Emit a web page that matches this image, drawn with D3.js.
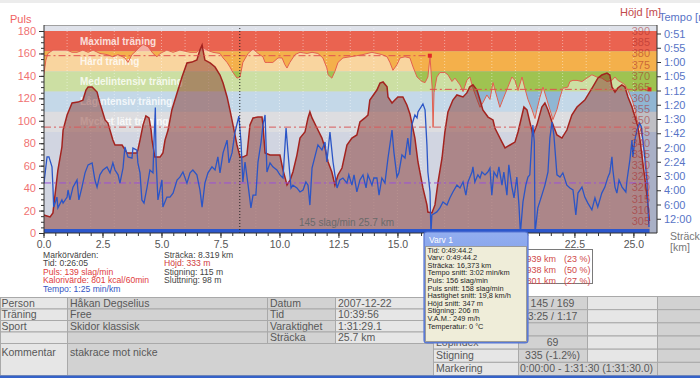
<!DOCTYPE html>
<html>
<head>
<meta charset="utf-8">
<script src="https://cdn.jsdelivr.net/npm/d3@7"></script>
<style>
  body { margin: 0; background: #fff; }
  svg { display: block; font-family: "Liberation Sans", Arial, sans-serif; }
</style>
</head>
<body>
<svg id="chart" width="700" height="378"></svg>
<script>
// --- data: [km, value]
const puls = [[0,139],[0.1,154],[0.19,160],[0.4,163],[0.7,163],[1.0,163],[1.21,161],[1.42,161],[1.67,163],[1.89,161],[2.1,163],[2.39,160],[2.69,159],[2.94,157],[3.16,159],[3.45,156],[3.58,152],[3.75,159],[3.96,163],[4.09,166],[4.22,168],[4.43,166],[4.64,160],[4.81,157],[4.94,160],[5.23,163],[5.49,161],[5.78,163],[6.21,161],[6.5,161],[6.72,166],[6.93,163],[7.18,161],[7.48,160],[7.61,156],[7.78,152],[7.9,148],[8.03,143],[8.2,138],[8.33,139],[8.45,152],[8.67,160],[8.88,164],[9.09,160],[9.3,157],[9.39,152],[9.51,152],[9.72,152],[9.94,156],[10.11,156],[10.23,150],[10.32,147],[10.44,152],[10.66,159],[10.87,161],[11.17,160],[11.38,161],[11.63,160],[11.84,156],[12.01,147],[12.06,141],[12.22,138],[12.35,144],[12.48,152],[12.69,156],[12.99,157],[13.28,158],[13.54,159],[13.92,161],[14.13,160],[14.34,159],[14.56,157],[14.68,152],[14.81,145],[14.98,150],[15.11,156],[15.32,157],[15.53,156],[15.66,148],[15.83,139],[16.04,135],[16.17,134],[16.29,139],[16.38,157],[16.47,130],[16.51,94],[16.55,125],[16.67,139],[16.8,143],[17.01,143],[17.14,141],[17.31,135],[17.44,138],[17.65,132],[17.78,126],[17.94,136],[18.07,139],[18.2,129],[18.37,119],[18.5,112],[18.62,116],[18.79,123],[18.92,119],[19.05,134],[19.22,121],[19.34,112],[19.47,119],[19.68,130],[19.85,139],[19.98,136],[20.11,127],[20.28,139],[20.4,129],[20.53,119],[20.7,110],[20.83,102],[20.91,110],[21.04,121],[21.17,130],[21.33,119],[21.46,110],[21.59,101],[21.76,110],[21.89,121],[22.01,129],[22.22,130],[22.31,135],[22.44,136],[22.61,136],[22.82,135],[23.03,138],[23.24,141],[23.45,139],[23.66,138],[23.88,135],[24.09,136],[24.22,139],[24.34,136],[24.51,134],[24.64,132],[24.77,127],[24.94,119],[25.07,110],[25.15,101],[25.28,94],[25.4,83],[25.49,71],[25.57,56],[25.61,41],[25.66,29]];

const hojd = [[0,307.7],[0.28,306.8],[0.4,308.6],[0.61,327.8],[0.78,338.1],[0.83,345.7],[1.0,352.4],[1.21,357.8],[1.46,358.2],[1.67,359.1],[1.8,363.6],[1.89,365.0],[2.06,365.0],[2.27,362.7],[2.39,357.8],[2.61,350.2],[2.73,348.8],[2.94,341.2],[3.03,339.0],[3.33,339.0],[3.54,335.4],[3.96,335.4],[4.0,336.8],[4.09,341.2],[4.22,348.0],[4.34,352.0],[4.47,351.1],[4.56,345.7],[4.6,341.2],[4.72,333.6],[4.94,333.6],[5.06,335.4],[5.15,341.2],[5.28,345.7],[5.44,354.7],[5.66,362.3],[5.87,369.4],[6.08,375.7],[6.29,376.1],[6.5,377.0],[6.63,381.5],[6.72,383.7],[6.84,377.0],[7.06,375.7],[7.27,373.9],[7.48,370.3],[7.61,366.7],[7.78,360.5],[7.9,354.7],[8.03,348.0],[8.2,339.0],[8.33,333.6],[8.45,333.6],[8.62,334.5],[8.75,348.0],[8.88,351.1],[9.09,351.5],[9.26,351.5],[9.3,348.0],[9.39,335.4],[9.6,334.5],[10.02,334.5],[10.15,327.8],[10.32,321.1],[10.45,323.3],[10.57,326.9],[10.74,334.5],[10.87,342.1],[11.08,344.8],[11.21,351.1],[11.29,353.8],[11.38,351.1],[11.59,346.6],[11.8,342.1],[11.93,337.7],[12.06,331.4],[12.22,326.9],[12.35,321.1],[12.48,325.6],[12.65,328.7],[12.86,339.0],[13.07,342.1],[13.28,343.5],[13.41,349.3],[13.62,351.1],[13.75,352.4],[13.83,359.1],[14.13,363.6],[14.26,366.7],[14.39,367.2],[14.56,365.0],[14.6,360.5],[14.77,357.8],[14.89,359.1],[15.02,360.5],[15.23,360.5],[15.4,356.9],[15.53,352.9],[15.74,342.1],[15.87,331.4],[16.08,319.8],[16.25,312.2],[16.29,309.0],[16.46,308.6],[16.59,312.2],[16.72,322.4],[16.89,333.2],[17.01,344.8],[17.14,353.8],[17.35,359.1],[17.52,361.4],[17.78,360.5],[17.94,362.3],[18.07,365.0],[18.2,365.9],[18.37,363.6],[18.5,359.1],[18.62,354.7],[18.84,351.5],[19.05,350.2],[19.13,346.6],[19.43,340.3],[19.56,337.7],[19.77,339.0],[19.98,340.3],[20.11,344.8],[20.28,352.4],[20.36,356.0],[20.49,354.7],[20.61,349.3],[20.74,343.5],[20.91,348.0],[21.12,356.0],[21.25,357.8],[21.38,354.7],[21.55,349.3],[21.76,343.5],[21.97,342.1],[22.18,345.7],[22.39,352.4],[22.61,356.0],[22.94,359.1],[23.28,365.0],[23.5,369.0],[23.66,370.3],[23.88,371.2],[24.0,370.3],[24.09,365.0],[24.22,362.7],[24.34,364.5],[24.51,365.9],[24.64,365.0],[24.77,360.5],[24.94,356.0],[25.07,351.5],[25.19,347.1],[25.28,341.2],[25.4,331.0],[25.53,320.2],[25.61,313.1],[25.68,305.0]];

// speed in km/h (tempo axis is drawn as min/km)
const fart = [[0.02,17.5],[0.15,26.7],[0.23,26.7],[0.36,23.2],[0.4,16.1],[0.43,9.1],[0.49,10.5],[0.57,12.6],[0.61,8.8],[0.78,11.6],[0.83,10.5],[1.0,12.6],[1.04,15.1],[1.12,11.6],[1.25,16.1],[1.42,18.6],[1.5,11.6],[1.63,16.1],[1.76,21.1],[1.89,23.9],[2.06,24.6],[2.18,18.6],[2.27,16.1],[2.39,20.4],[2.52,22.1],[2.69,23.2],[2.82,21.1],[2.94,24.6],[3.03,22.1],[3.16,20.4],[3.24,17.5],[3.37,22.8],[3.45,30.2],[3.58,26.7],[3.75,26.3],[3.79,29.8],[3.96,29.1],[4.0,24.6],[4.09,21.1],[4.17,11.6],[4.26,10.5],[4.39,16.1],[4.51,22.1],[4.64,21.1],[4.68,31.6],[4.74,44.0],[4.77,25.6],[4.85,11.6],[5.02,18.6],[5.06,9.1],[5.23,12.6],[5.36,12.6],[5.49,14.0],[5.66,18.6],[5.78,19.6],[5.91,21.4],[6.08,17.5],[6.21,21.1],[6.33,22.1],[6.5,20.4],[6.63,15.1],[6.72,9.1],[6.84,17.5],[6.97,21.1],[7.14,23.2],[7.27,22.1],[7.39,26.7],[7.48,21.1],[7.61,28.1],[7.78,32.6],[7.86,24.6],[7.99,28.1],[8.11,35.1],[8.28,41.0],[8.37,31.9],[8.45,17.9],[8.54,24.9],[8.67,16.8],[8.79,8.8],[8.88,13.3],[9.0,13.3],[9.09,24.9],[9.22,31.9],[9.3,37.9],[9.39,41.4],[9.47,21.4],[9.6,24.6],[9.72,23.2],[9.89,22.1],[10.02,20.4],[10.15,19.3],[10.19,24.9],[10.28,36.8],[10.36,28.4],[10.49,15.8],[10.57,16.8],[10.74,15.8],[10.87,14.4],[11.0,15.1],[11.12,17.9],[11.21,16.8],[11.29,9.8],[11.38,22.8],[11.5,26.7],[11.63,30.9],[11.8,29.1],[11.93,31.9],[12.01,24.9],[12.14,35.4],[12.27,24.9],[12.35,20.4],[12.44,15.8],[12.56,18.6],[12.69,19.3],[12.86,17.5],[12.94,20.4],[13.07,16.8],[13.16,20.4],[13.28,14.4],[13.41,18.6],[13.54,20.4],[13.67,15.8],[13.75,20.4],[13.92,16.8],[14.0,19.3],[14.13,19.3],[14.22,13.3],[14.34,19.3],[14.47,17.5],[14.6,26.3],[14.77,36.1],[14.85,28.4],[14.98,19.6],[15.06,21.1],[15.19,27.4],[15.32,26.3],[15.44,33.3],[15.53,27.4],[15.61,37.9],[15.74,41.4],[15.83,40.4],[15.87,42.5],[16.08,45.3],[16.17,43.2],[16.25,30.9],[16.29,21.4],[16.38,14.4],[16.42,0],[16.46,6.3],[16.67,7.4],[16.8,8.8],[16.93,10.9],[17.1,9.8],[17.22,12.3],[17.35,14.4],[17.52,16.8],[17.65,15.8],[17.78,17.9],[17.9,13.3],[17.99,17.9],[18.16,21.4],[18.2,23.2],[18.28,17.9],[18.41,20.4],[18.5,19.3],[18.58,21.4],[18.71,20.4],[18.83,21.4],[18.92,22.8],[19.0,13.3],[19.09,21.4],[19.22,19.6],[19.3,23.2],[19.43,16.8],[19.51,21.4],[19.64,13.3],[19.72,23.9],[19.85,16.1],[19.94,12.3],[20.06,19.6],[20.15,9.8],[20.21,0],[20.32,10.9],[20.44,16.8],[20.53,19.6],[20.61,20.4],[20.7,33.3],[20.74,37.9],[20.8,31.9],[20.83,0],[20.95,8.8],[21.12,13.3],[21.25,16.8],[21.38,21.4],[21.46,33.3],[21.55,38.9],[21.63,34.4],[21.76,20.4],[21.89,19.6],[22.01,21.1],[22.18,16.8],[22.31,15.8],[22.44,15.1],[22.56,6.3],[22.65,14.0],[22.82,16.1],[22.94,12.6],[23.07,10.5],[23.24,8.1],[23.37,12.3],[23.49,9.1],[23.66,14.0],[23.79,16.1],[23.92,19.6],[24.0,21.1],[24.09,26.7],[24.13,22.1],[24.22,16.1],[24.3,14.0],[24.39,18.6],[24.52,16.1],[24.68,14.4],[24.73,18.6],[24.85,25.6],[24.94,32.6],[24.98,26.7],[25.06,32.6],[25.15,36.1],[25.26,38.6],[25.34,37.2],[25.4,32.6],[25.49,25.6],[25.57,18.6],[25.61,10.5],[25.66,2.1]];

// zones (bpm)
const zoneNames = ["Maximal träning", "Hård träning", "Medelintensiv träning", "Lågintensiv träning", "Mycket lätt träning"];
const zoneLow   = [162, 144, 126, 108, 90];
const zoneHigh  = [180, 162, 144, 126, 108];

// laps: end km, avg pulse
const lapEnd = [16.373, 25.68];
const lapAvgPuls = [158, 128];
const avgHojd = 347;
const avgFart = 17.56;     // 3:25 min/km
const cursorKm = 8.319;
const totalKm = 25.68;

// ticks
const xTicks = [0, 2.5, 5, 7.5, 10, 12.5, 15, 17.5, 20, 22.5, 25];
const pulsTicks = [0, 20, 40, 60, 80, 100, 120, 140, 160, 180];
const hojdTicks = [305, 310, 315, 320, 325, 330, 335, 340, 345, 350, 355, 360, 365, 370, 375, 380, 385, 390];
const tempoSpeeds = [70, 65, 60, 55, 50, 45, 40, 35, 30, 25, 20, 15, 10, 5];
const tempoLabels = ["0:51", "0:55", "1:00", "1:05", "1:12", "1:20", "1:30", "1:42", "2:00", "2:24", "3:00", "4:00", "6:00", "12:00"];

// texts
const markerLeft = ["Markörvärden:", "Tid: 0:26:05", "Puls: 139 slag/min", "Kalorivärde: 801 kcal/60min", "Tempo: 1:25 min/km"];
const markerRight = ["Sträcka: 8.319 km", "Höjd: 333 m", "Stigning: 115 m", "Sluttning: 98 m"];
const slopeDist = ["5.939 km", "12.938 km", "6.801 km"];
const slopePct = ["(23 %)", "(50 %)", "(27 %)"];
const tipTitle = "Varv 1";
const tipLines = ["Tid: 0:49:44.2", "Varv: 0:49:44.2", "Sträcka: 16,373 km", "Tempo snitt: 3:02 min/km", "Puls: 156 slag/min", "Puls snitt: 158 slag/min", "Hastighet snitt: 19,8 km/h", "Höjd snitt: 347 m", "Stigning: 206 m", "V.A.M.: 249 m/h", "Temperatur: 0 °C"];
const t1Labels = ["Person", "Träning", "Sport", "", "Kommentar"];
const t1Values = ["Håkan  Degselius", "Free", "Skidor klassisk", "", "stakrace mot nicke"];
const t2Labels = ["Datum", "Tid", "Varaktighet", "Sträcka"];
const t2Values = ["2007-12-22", "10:39:56", "1:31:29.1", "25.7 km"];
const t3Labels = ["", "", "", "Löpindex", "Stigning", "Markering"];
const t3Values = ["145 / 169", "3:25 / 1:17", "", "69", "335 (-1.2%)", "0:00:00 - 1:31:30 (1:31:30.0)"];

// --- setup
const svg = d3.select("#chart");
const P = { left: 44, right: 657, top: 25, bottom: 233 };
const TIP = { x: 424, y: 232, w: 104, h: 111 };

const x  = d3.scaleLinear().domain([0, 26]).range([43.5, 657]);
const yP = d3.scaleLinear().domain([0, 180]).range([233, 31]);
const yH = d3.scaleLinear().domain([305, 390]).range([221, 31]);
const yV = d3.scaleLinear().domain([0, 70]).range([233, 33.5]);

const zoneColors = ["#ea6350", "#f4b04b", "#9fc351", "#90b6d3", "#bfbfc4"];

svg.append("rect").attr("width", 700).attr("height", 3).attr("fill", "#ececec");

svg.append("defs").append("clipPath").attr("id", "clip")
  .append("rect").attr("x", P.left).attr("y", P.top).attr("width", P.right - P.left).attr("height", P.bottom - P.top);

const g = svg.append("g").attr("clip-path", "url(#clip)");

// background
g.append("rect").attr("x", P.left).attr("y", P.top).attr("width", P.right - P.left).attr("height", P.bottom - P.top).attr("fill", "#a9b0c6");
g.append("rect").attr("x", P.left).attr("y", P.top).attr("width", P.right - P.left).attr("height", yP(180) - P.top).attr("fill", "#dfe2ea");

// zone bands
g.selectAll(".zone").data(zoneNames).enter().append("rect")
  .attr("x", P.left).attr("width", P.right - P.left)
  .attr("y", (d, i) => yP(zoneHigh[i]))
  .attr("height", (d, i) => yP(zoneLow[i]) - yP(zoneHigh[i]))
  .attr("fill", (d, i) => zoneColors[i]);

// km grid
g.selectAll(".vgrid").data(d3.range(1, 26)).enter().append("line")
  .attr("x1", d => x(d)).attr("x2", d => x(d)).attr("y1", P.top).attr("y2", P.bottom)
  .attr("stroke", "#fff").attr("stroke-opacity", 0.45).attr("stroke-dasharray", "1,2");

// zone labels
g.selectAll(".zlab").data(zoneNames).enter().append("text")
  .attr("x", 80).attr("y", (d, i) => (yP(zoneHigh[i]) + yP(zoneLow[i])) / 2 + 3.5)
  .attr("fill", "#fff").attr("fill-opacity", 0.8).attr("font-size", 10).attr("font-weight", "bold")
  .text(d => d);

// pulse: lighten beneath the curve
g.append("path").datum(puls)
  .attr("d", d3.area().x(d => x(d[0])).y0(P.bottom).y1(d => yP(d[1])))
  .attr("fill", "#fff").attr("fill-opacity", 0.47);
g.append("path").datum(puls)
  .attr("d", d3.line().x(d => x(d[0])).y(d => yP(d[1])))
  .attr("fill", "none").attr("stroke", "#e4604f").attr("stroke-width", 1);

// altitude
g.append("path").datum(hojd)
  .attr("d", d3.area().x(d => x(d[0])).y0(P.bottom).y1(d => yH(d[1])))
  .attr("fill", "#802a20").attr("fill-opacity", 0.46);
g.append("path").datum(hojd)
  .attr("d", d3.line().x(d => x(d[0])).y(d => yH(d[1])))
  .attr("fill", "none").attr("stroke", "#a3231f").attr("stroke-width", 1.5);

// averages
const dash = "7,3,2,3";
lapEnd.forEach((e, i) => {
  const s = i === 0 ? 0 : lapEnd[i - 1];
  g.append("line").attr("x1", x(s)).attr("x2", x(e)).attr("y1", yP(lapAvgPuls[i])).attr("y2", yP(lapAvgPuls[i]))
    .attr("stroke", "#e05050").attr("stroke-dasharray", dash);
});
g.append("line").attr("x1", P.left).attr("x2", x(totalKm)).attr("y1", yH(avgHojd)).attr("y2", yH(avgHojd))
  .attr("stroke", "#d85a5a").attr("stroke-dasharray", dash);
g.append("line").attr("x1", P.left).attr("x2", x(totalKm)).attr("y1", yV(avgFart)).attr("y2", yV(avgFart))
  .attr("stroke", "#9a50d8").attr("stroke-dasharray", dash);

// tempo
g.append("path").datum(fart)
  .attr("d", d3.line().x(d => x(d[0])).y(d => yV(d[1])))
  .attr("fill", "none").attr("stroke", "#2b55c6").attr("stroke-width", 1.3);

// selection bar
g.append("rect").attr("x", x(0)).attr("width", x(totalKm) - x(0)).attr("y", 229).attr("height", 4).attr("fill", "#2c57cc");

// cursor
g.append("line").attr("x1", x(cursorKm)).attr("x2", x(cursorKm)).attr("y1", P.top).attr("y2", P.bottom)
  .attr("stroke", "#222").attr("stroke-dasharray", "1,2");

// lap markers
g.selectAll(".lapm").data(lapEnd).enter().append("rect")
  .attr("x", d => x(d) - 2).attr("y", (d, i) => yP(lapAvgPuls[i]) - 2).attr("width", 4).attr("height", 4)
  .attr("fill", "#e02828");

// centre summary
g.append("text").attr("x", (x(0) + x(totalKm)) / 2).attr("y", 226).attr("text-anchor", "middle")
  .attr("font-size", 10).attr("fill", "#6a6a6a").text("145 slag/min 25.7 km");

// altitude labels inside the plot
g.selectAll(".hlab").data(hojdTicks).enter().append("text")
  .attr("x", 650).attr("y", d => yH(d) + 4).attr("text-anchor", "end")
  .attr("font-size", 11).attr("fill", "#a82828").attr("fill-opacity", 0.55).text(d => d);

// frame top
svg.append("line").attr("x1", P.left).attr("x2", P.right).attr("y1", P.top + 0.5).attr("y2", P.top + 0.5).attr("stroke", "#a0a0a0");

// --- axes
function styleAxis(sel, col, size = 11) {
  sel.selectAll("text").attr("fill", col).attr("font-size", size).attr("font-family", "Liberation Sans, Arial, sans-serif");
  sel.selectAll("line,path").attr("stroke", "#333");
}
const axL = svg.append("g").attr("transform", `translate(${P.left},0)`)
  .call(d3.axisLeft(yP).tickValues(pulsTicks).tickSize(5).tickSizeOuter(0));
styleAxis(axL, "#f07272");
axL.select(".domain").attr("d", `M0,${P.top}V${P.bottom}`);
svg.append("g").attr("transform", `translate(${P.left},0)`)
  .call(d3.axisLeft(yP).tickValues(d3.range(0, 181, 5)).tickSize(3).tickFormat(""))
  .call(a => a.select(".domain").remove()).selectAll("line").attr("stroke", "#333");

const axR = svg.append("g").attr("transform", `translate(${P.right},0)`)
  .call(d3.axisRight(yV).tickValues(tempoSpeeds).tickFormat((d, i) => tempoLabels[i]).tickSize(4).tickSizeOuter(0));
styleAxis(axR, "#5874c6");
axR.select(".domain").attr("d", `M0,${P.top}V${P.bottom}`);

// labels that sit under the lap tooltip are not drawn (they are hidden there)
const underTip = d => x(d) > TIP.x - 8 && x(d) < TIP.x + TIP.w + 8;
const axB = svg.append("g").attr("transform", `translate(0,${P.bottom})`)
  .call(d3.axisBottom(x).tickValues(xTicks).tickFormat(d => underTip(d) ? "" : d3.format(".1f")(d)).tickSize(5).tickSizeOuter(0));
styleAxis(axB, "#555", 10.5);
axB.selectAll("text").attr("dy", "0.62em");
axB.select(".domain").attr("d", `M${P.left},0H${P.right}`);
svg.append("g").attr("transform", `translate(0,${P.bottom})`)
  .call(d3.axisBottom(x).tickValues(d3.range(0, 26, 0.5)).tickSize(3).tickFormat(""))
  .call(a => a.select(".domain").remove()).selectAll("line").attr("stroke", "#333");

svg.append("text").attr("x", 10).attr("y", 23).attr("font-size", 11).attr("fill", "#f06262").text("Puls");
svg.append("text").attr("x", 620).attr("y", 16).attr("font-size", 11).attr("fill", "#c24a4a").text("Höjd [m]");
svg.append("text").attr("x", 659).attr("y", 21).attr("font-size", 11).attr("fill", "#5874c6").text("Tempo [m");
svg.append("text").attr("x", 670).attr("y", 239.5).attr("font-size", 10.5).attr("fill", "#777").text("Sträcka");
svg.append("text").attr("x", 670).attr("y", 250.5).attr("font-size", 10.5).attr("fill", "#777").text("[km]");

// --- marker values under the chart
const mlCol = ["#444", "#444", "#e03c3c", "#e03c3c", "#3456c4"];
svg.selectAll(".ml").data(markerLeft).enter().append("text")
  .attr("x", 43).attr("y", (d, i) => 257.5 + i * 8.5).attr("font-size", 8.6).attr("fill", (d, i) => mlCol[i]).text(d => d);
const mrCol = ["#444", "#d03c3c", "#444", "#444"];
svg.selectAll(".mr").data(markerRight).enter().append("text")
  .attr("x", 164).attr("y", (d, i) => 257.5 + i * 8.5).attr("font-size", 8.6).attr("fill", (d, i) => mrCol[i]).text(d => d);

// slope distance box
svg.append("rect").attr("x", 440.5).attr("y", 249.5).attr("width", 152).attr("height", 34).attr("fill", "#fff").attr("stroke", "#7a7a7a");
svg.selectAll(".sd").data(slopeDist).enter().append("text")
  .attr("x", 556).attr("y", (d, i) => 262 + i * 11).attr("text-anchor", "end").attr("font-size", 9).attr("fill", "#d04848").text(d => d);
svg.selectAll(".sp").data(slopePct).enter().append("text")
  .attr("x", 564).attr("y", (d, i) => 262 + i * 11).attr("font-size", 9).attr("fill", "#d04848").text(d => d);

// --- tables
const tb = svg.append("g").attr("font-size", 10.5);
function cell(x0, x1, y0, y1, txt, fill, opt = {}) {
  tb.append("rect").attr("x", x0 + 0.5).attr("y", y0 + 0.5).attr("width", x1 - x0).attr("height", y1 - y0)
    .attr("fill", fill).attr("stroke", "#a9a9a9");
  if (!txt) return;
  const t = tb.append("text").attr("fill", "#585858").text(txt);
  if (opt.center) t.attr("x", (x0 + x1) / 2).attr("text-anchor", "middle");
  else t.attr("x", x0 + (opt.pad ?? 3));
  t.attr("y", opt.top ? y0 + 13 : (y0 + y1) / 2 + 4);
}
const L = "#e6e6e6", D = "#d2d2d2";
const r1 = [297, 308.5, 320, 331.5, 343, 375];
t1Labels.forEach((lab, i) => {
  const last = i === t1Labels.length - 1;
  cell(0, 67, r1[i], r1[i + 1], lab, L, { top: last, pad: 1.5 });
  if (last) cell(67, 433, r1[i], r1[i + 1], t1Values[i], D, { top: true });
  else cell(67, 267, r1[i], r1[i + 1], t1Values[i], D);
});
t2Labels.forEach((lab, i) => {
  cell(267, 335, r1[i], r1[i + 1], lab, D);
  cell(335, 433, r1[i], r1[i + 1], t2Values[i], L);
});
const r3 = d3.range(7).map(i => 296 + i * 13.17);
t3Labels.forEach((lab, i) => {
  cell(433, 518, r3[i], r3[i + 1], lab, L);
  if (i === t3Labels.length - 1) {
    tb.append("rect").attr("x", 518.5).attr("y", r3[i] + 0.5).attr("width", 139).attr("height", r3[i + 1] - r3[i]).attr("fill", D).attr("stroke", "#a9a9a9");
    tb.append("text").attr("x", 520).attr("y", (r3[i] + r3[i + 1]) / 2 + 4).attr("fill", "#585858").text(t3Values[i]);
  } else {
    cell(518, 587, r3[i], r3[i + 1], t3Values[i], D, { center: true });
    cell(587, 657, r3[i], r3[i + 1], "", L);
  }
  cell(657, 700, r3[i], r3[i + 1], "", D);
});
svg.append("rect").attr("x", 0).attr("y", 375.5).attr("width", 700).attr("height", 2.5).attr("fill", "#3562c8");

// --- lap tooltip
const tip = svg.append("g");
const tipGrad = svg.select("defs").append("linearGradient").attr("id", "tipHead").attr("x1", 0).attr("x2", 0).attr("y1", 0).attr("y2", 1);
tipGrad.append("stop").attr("offset", "0%").attr("stop-color", "#93aef0");
tipGrad.append("stop").attr("offset", "100%").attr("stop-color", "#5b7fd9");
tip.append("rect").attr("x", TIP.x).attr("y", TIP.y).attr("width", TIP.w).attr("height", TIP.h).attr("rx", 3)
  .attr("fill", "url(#tipHead)").attr("stroke", "#5775d2").attr("stroke-width", 1.2);
tip.append("rect").attr("x", TIP.x + 1.5).attr("y", TIP.y + 14.5).attr("width", TIP.w - 3).attr("height", TIP.h - 16)
  .attr("fill", "#efedd9").attr("stroke", "#9a9a9a");
tip.append("text").attr("x", TIP.x + 5).attr("y", TIP.y + 11).attr("font-size", 8.5).attr("fill", "#fff").text(tipTitle);
tip.selectAll(".tl").data(tipLines).enter().append("text")
  .attr("x", TIP.x + 3.5).attr("y", (d, i) => TIP.y + 20.5 + i * 7.6).attr("font-size", 7.4).attr("fill", "#1e1e1e").text(d => d);
</script>
</body>
</html>
